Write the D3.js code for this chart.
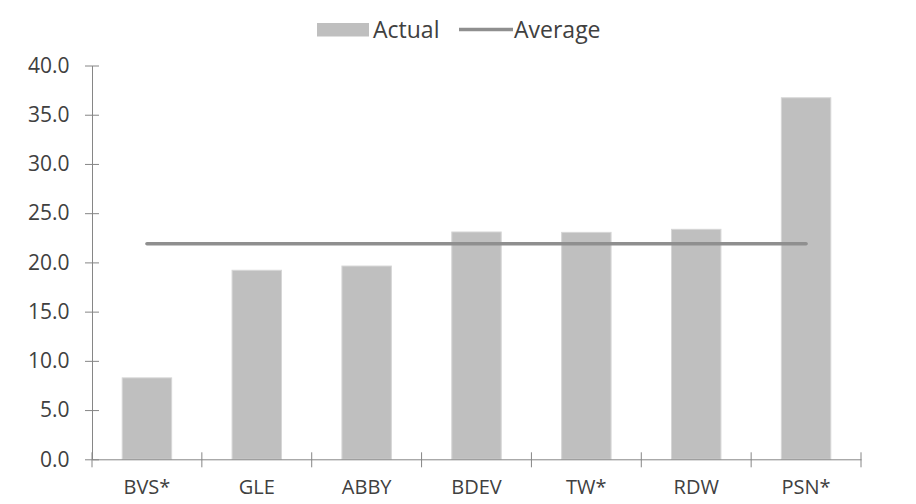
<!DOCTYPE html>
<html>
<head>
<meta charset="utf-8">
<script src="https://cdn.jsdelivr.net/npm/d3@7"></script>
<style>
	body { margin: 0; background: #fff; }
	svg text { font-family: 'Open Sans', sans-serif; fill: #404040; }
</style>
</head>
<body>
<div id="chart"></div>
<script>
// chart data
const categories = ['BVS*', 'GLE', 'ABBY', 'BDEV', 'TW*', 'RDW', 'PSN*'];
const actualValues = [8.27, 19.2, 19.63, 23.09, 23.05, 23.36, 36.72];
const averageValue = 21.9;
const yTicks = [0, 5, 10, 15, 20, 25, 30, 35, 40];
const legendLabels = ['Actual', 'Average'];

const w = 916, h = 504;
const plotLeft = 92, plotRight = 861, plotTop = 65.5, plotBottom = 459.3;
const barColor = '#bfbfbf', lineColor = '#8f8f8f', axisColor = '#868686';

const svg = d3.select('#chart')
	.append('svg')
	.attr('width', w)
	.attr('height', h)
	.attr('viewBox', `0 0 ${w} ${h}`);

const x = d3.scaleBand().domain(categories).range([plotLeft, plotRight]).paddingInner(0.55).paddingOuter(0.275);
const xb = d3.scaleBand().domain(categories).range([plotLeft, plotRight]);
const y = d3.scaleLinear().domain([0, 40]).range([plotBottom, plotTop]);

// bars
svg.append('g').selectAll('rect')
	.data(actualValues)
	.enter()
	.append('rect')
	.attr('x', (d, i) => x(categories[i]))
	.attr('y', d => y(d))
	.attr('width', x.bandwidth())
	.attr('height', d => y(0) - y(d))
	.attr('fill', barColor)
	.attr('stroke', '#d6d6d6')
	.attr('stroke-width', 1);

// average line, from first to last category centre
const avgLine = d3.line()
	.x(d => xb(d) + xb.bandwidth() / 2)
	.y(() => y(averageValue));
svg.append('path')
	.attr('d', avgLine([categories[0], categories[categories.length - 1]]))
	.attr('stroke', lineColor)
	.attr('stroke-width', 3.5)
	.attr('stroke-linecap', 'round')
	.attr('fill', 'none');

// y axis
const yAxis = svg.append('g')
	.attr('transform', `translate(${plotLeft},0)`)
	.call(d3.axisLeft(y).tickValues(yTicks).tickFormat(d3.format('.1f')).tickSizeOuter(0));
yAxis.select('.domain').attr('stroke', axisColor);
yAxis.selectAll('.tick line').attr('x1', -7).attr('x2', 7).attr('stroke', axisColor);
yAxis.selectAll('.tick text')
	.attr('x', -22.5)
	.attr('font-size', 21)
	.style('font-family', "'Open Sans', sans-serif");

// x axis
const xAxis = svg.append('g')
	.attr('transform', `translate(0,${plotBottom})`)
	.call(d3.axisBottom(xb).tickSize(0).tickSizeOuter(0).tickPadding(21));
xAxis.select('.domain').attr('stroke', axisColor);
xAxis.selectAll('.tick text').attr('font-size', 20).style('font-family', "'Open Sans', sans-serif");
xAxis.selectAll('.bound')
	.data(categories.map(c => xb(c)).concat([plotRight]))
	.enter()
	.append('line')
	.attr('x1', d => d).attr('x2', d => d)
	.attr('y1', -7).attr('y2', 8)
	.attr('stroke', axisColor);

// legend
const legend = svg.append('g');
legend.append('rect')
	.attr('x', 317).attr('y', 23)
	.attr('width', 52).attr('height', 13.5)
	.attr('fill', barColor);
legend.append('text')
	.attr('x', 373).attr('y', 37.5)
	.attr('font-size', 23)
	.text(legendLabels[0]);
legend.append('line')
	.attr('x1', 459).attr('x2', 513)
	.attr('y1', 29.5).attr('y2', 29.5)
	.attr('stroke', lineColor)
	.attr('stroke-width', 3.5);
legend.append('text')
	.attr('x', 514).attr('y', 37.5)
	.attr('font-size', 23)
	.text(legendLabels[1]);
</script>
</body>
</html>
